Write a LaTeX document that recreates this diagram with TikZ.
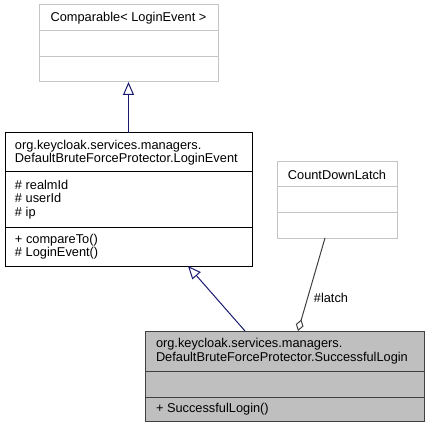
\documentclass[tikz,border=0pt]{standalone}
\usepackage{fontspec}
\setmainfont{Liberation Sans}
\usetikzlibrary{arrows.meta}
\definecolor{edgeblue}{HTML}{191970}
\definecolor{boxgray}{HTML}{BFBFBF}
\definecolor{lightline}{HTML}{C4C4C4}
\definecolor{latchline}{HTML}{404040}

\begin{document}
\begin{tikzpicture}[x=0.75pt, y=-0.75pt,
    every node/.style={inner sep=0pt, outer sep=0pt, font=\fontsize{9.6pt}{10.2pt}\selectfont},
    extbox/.style={draw=lightline, fill=white, line width=0.75pt},
    clsbox/.style={draw=black, fill=white, line width=0.75pt},
    curbox/.style={draw=black!75, fill=boxgray, line width=0.75pt},
    member/.style={anchor=west, align=left},
    inherit/.style={draw=edgeblue, line width=0.75pt, -{Triangle[open, length=9.75pt, width=8.25pt]}},
    aggr/.style={draw=latchline, line width=0.75pt, {Diamond[open, length=9pt, width=6pt]}-}]
    \useasboundingbox (0,0) rectangle (429,428);

    % Comparable< LoginEvent >
    \node[extbox, minimum width=134.25pt, minimum height=57.75pt] (comparable) at (128.5,43.5) {};
    \draw[lightline, line width=0.75pt] (39,31) -- (218,31) (39,57) -- (218,57);
    \node (comparabletitle) at (128.5,18) {Comparable< LoginEvent >};

    % LoginEvent
    \node[clsbox, minimum width=185.25pt, minimum height=99.75pt] (loginevent) at (128.5,199.5) {};
    \draw[line width=0.75pt] (5,172) -- (252,172) (5,227) -- (252,227);
    \node[member] (logineventtitle) at (15,152.5) {org.keycloak.services.managers.\\DefaultBruteForceProtector.LoginEvent};
    \node[member] (logineventattr) at (15,199.5) {\# realmId\\\# userId\\\# ip};
    \node[member] (logineventops) at (15,246.5) {+ compareTo()\\\# LoginEvent()};

    % CountDownLatch
    \node[extbox, minimum width=90pt, minimum height=57pt] (countdownlatch) at (337,200) {};
    \draw[lightline, line width=0.75pt] (277,187) -- (397,187) (277,212) -- (397,212);
    \node (countdownlatchtitle) at (337,174.5) {CountDownLatch};

    % SuccessfulLogin
    \node[curbox, minimum width=209.25pt, minimum height=67.5pt] (successfullogin) at (284.5,376) {};
    \draw[black!75, line width=0.75pt] (145,371) -- (424,371) (145,397) -- (424,397);
    \node[member] (successfullogintitle) at (156,351) {org.keycloak.services.managers.\\DefaultBruteForceProtector.SuccessfulLogin};
    \node[member] (successfulloginops) at (156,409) {+ SuccessfulLogin()};

    \draw[inherit] (loginevent.north) -- (comparable.south);
    \draw[inherit] ([xshift=-29.625pt]successfullogin.north) -- ([xshift=44.625pt]loginevent.south);
    \draw[aggr] ([xshift=10.125pt]successfullogin.north) -- ([xshift=-9pt]countdownlatch.south);
    \node (latchlabel) at (331,298) {\#latch};
\end{tikzpicture}
\end{document}
